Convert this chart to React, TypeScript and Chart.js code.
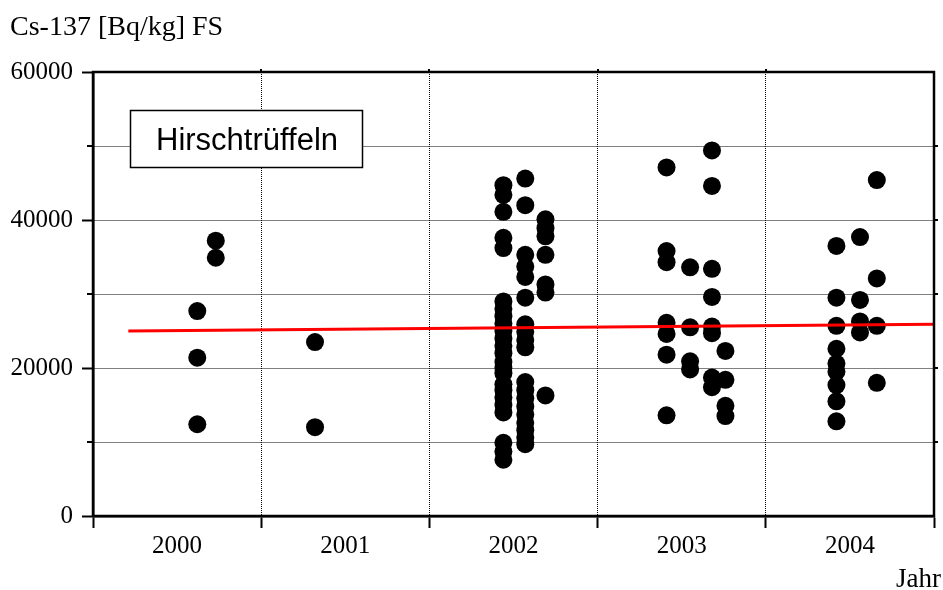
import React, { useEffect, useRef } from "react";
import { Chart, registerables } from "chart.js";

Chart.register(...registerables);

// x positions (decimal year) of each column of measurements
const columnX = [
  2000.62, 2000.73,
  2001.32,
  2002.44, 2002.57, 2002.69,
  2003.41, 2003.55, 2003.68, 2003.76,
  2004.42, 2004.56, 2004.66,
];

// Cs-137 values [Bq/kg FS] per column
const col2000a = [27700, 21400, 12400];
const col2000b = [37200, 34900];
const col2001 = [23500, 12000];
const col2002a = [44700, 43400, 41100, 37600, 36200, 29000, 28000, 27000, 26000, 25000, 24000, 23000, 22000, 20800, 20000, 19300, 17800, 17000, 16000, 15000, 14000, 9900, 8700, 7600];
const col2002b = [45600, 42000, 35300, 33700, 32300, 29500, 25900, 24900, 23800, 22800, 18100, 17000, 15900, 14800, 13700, 12600, 11600, 10600, 9700];
const col2002c = [40100, 38900, 37800, 35300, 31300, 30200, 16300];
const col2003a = [47100, 35800, 34300, 26100, 24600, 21800, 13600];
const col2003b = [33600, 25500, 20900, 19800];
const col2003c = [49400, 44600, 33400, 29600, 25600, 24700, 18700, 17400];
const col2003d = [22300, 18400, 14900, 13500];
const col2004a = [36500, 29500, 25700, 22600, 20600, 19500, 17700, 15500, 12800];
const col2004b = [37700, 29200, 26300, 24800];
const col2004c = [45400, 32100, 25700, 18000];

const columns = [
  col2000a, col2000b, col2001, col2002a, col2002b, col2002c,
  col2003a, col2003b, col2003c, col2003d, col2004a, col2004b, col2004c,
];

// regression line
const trendX = [2000.21, 2005];
const trendY = [25000, 25900];

const yMinorTicks = [10000, 30000, 50000];
const titleText = "Cs-137 [Bq/kg] FS";
const xAxisTitle = "Jahr";
const legendText = "Hirschtrüffeln";

const decor = {
  id: "decor",
  afterDraw(chart: any) {
    const { ctx, chartArea: a, scales } = chart;
    const x = scales.x;
    const y = scales.y;
    ctx.save();
    // frame
    ctx.strokeStyle = "#000";
    ctx.lineWidth = 2.5;
    ctx.strokeRect(a.left, a.top, a.right - a.left, a.bottom - a.top);
    // minor y ticks (left)
    ctx.lineWidth = 2;
    for (const v of yMinorTicks) {
      const py = Math.round(y.getPixelForValue(v));
      ctx.beginPath();
      ctx.moveTo(a.left - 6, py);
      ctx.lineTo(a.left, py);
      ctx.stroke();
    }
    // small right ticks
    for (let v = 10000; v < 60000; v += 10000) {
      const py = Math.round(y.getPixelForValue(v));
      ctx.beginPath();
      ctx.moveTo(a.right, py);
      ctx.lineTo(a.right + 4, py);
      ctx.stroke();
    }
    // small top ticks
    for (let v = 2001; v < 2005; v++) {
      const px = Math.round(x.getPixelForValue(v));
      ctx.beginPath();
      ctx.moveTo(px, a.top - 3);
      ctx.lineTo(px, a.top);
      ctx.stroke();
    }
    // title
    ctx.fillStyle = "#000";
    ctx.font = '28px "Liberation Serif"';
    ctx.textAlign = "left";
    ctx.textBaseline = "alphabetic";
    ctx.fillText(titleText, 10, 35);
    // x axis title
    ctx.font = '27px "Liberation Serif"';
    ctx.textAlign = "right";
    ctx.fillText(xAxisTitle, 941, 587);
    // legend box
    ctx.fillStyle = "#fff";
    ctx.fillRect(130.5, 110.5, 232, 57);
    ctx.strokeStyle = "#000";
    ctx.lineWidth = 1.5;
    ctx.strokeRect(130.5, 110.5, 232, 57);
    ctx.fillStyle = "#000";
    ctx.font = '31px "Liberation Sans"';
    ctx.textAlign = "left";
    ctx.fillText(legendText, 156, 150);
    ctx.restore();
  },
};

export default function App() {
  const ref = useRef<HTMLCanvasElement | null>(null);
  useEffect(() => {
    if (!ref.current) return;
    const points: { x: number; y: number }[] = [];
    columns.forEach((vals, i) => vals.forEach((v) => points.push({ x: columnX[i], y: v })));
    const trend = trendX.map((xv, i) => ({ x: xv, y: trendY[i] }));
    const chart = new Chart(ref.current, {
      type: "scatter",
      data: {
        datasets: [
          {
            label: "Trend",
            data: trend,
            showLine: true,
            borderColor: "#ff0000",
            borderWidth: 3,
            pointRadius: 0,
            fill: false,
          },
          {
            label: "Cs-137",
            data: points,
            pointRadius: 9,
            pointBackgroundColor: "#000",
            pointBorderWidth: 0,
            borderColor: "#000",
          },
        ],
      },
      options: {
        animation: false,
        responsive: false,
        devicePixelRatio: 1,
        layout: { padding: { left: 0, top: 72, right: 6, bottom: 0 } },
        plugins: { legend: { display: false }, tooltip: { enabled: false }, title: { display: false } },
        scales: {
          x: {
            type: "linear",
            min: 2000,
            max: 2005,
            afterFit: (s: any) => { s.height = 74; s.paddingLeft = 0; s.paddingRight = 0; },
            ticks: {
              stepSize: 0.5,
              autoSkip: false,
              maxRotation: 0,
              padding: 3,
              color: "#000",
              font: { family: "Liberation Serif", size: 25 },
              callback: (v: any) => (Number.isInteger(v) ? "" : String(Math.floor(v))),
            },
            grid: {
              color: (c: any) =>
                c.tick && Number.isInteger(c.tick.value) && c.tick.value > 2000 && c.tick.value < 2005 ? "#000" : "rgba(0,0,0,0)",
              tickColor: (c: any) => (c.tick && Number.isInteger(c.tick.value) ? "#000" : "rgba(0,0,0,0)"),
              tickLength: 12,
              tickWidth: 2,
              lineWidth: 1,
            },
            border: { display: true, color: "#000", width: 2.5, dash: [1, 1] },
          },
          y: {
            type: "linear",
            min: 0,
            max: 60000,
            afterFit: (s: any) => { s.width = 93; },
            ticks: {
              stepSize: 10000,
              padding: 9,
              color: "#000",
              font: { family: "Liberation Serif", size: 25 },
              callback: (v: any) => (v % 20000 === 0 ? String(v) : ""),
            },
            grid: {
              color: (c: any) =>
                c.tick && c.tick.value > 0 && c.tick.value < 60000 ? "#000" : "rgba(0,0,0,0)",
              tickColor: (c: any) => (c.tick && c.tick.value % 20000 === 0 ? "#000" : "rgba(0,0,0,0)"),
              tickLength: 11,
              tickWidth: 2,
              lineWidth: 1,
            },
            border: { display: true, color: "#000", width: 2.5, dash: [1, 1] },
          },
        },
      },
      plugins: [decor],
    });
    return () => chart.destroy();
  }, []);
  return (
    <div style={{ position: "fixed", left: 0, top: 0, width: 943, height: 590, background: "#fff" }}>
      <canvas ref={ref} width={943} height={590} style={{ width: 943, height: 590 }} />
    </div>
  );
}
